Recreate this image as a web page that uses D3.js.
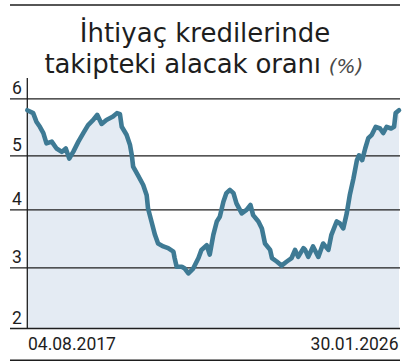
<!DOCTYPE html>
<html><head><meta charset="utf-8">
<script src="https://cdn.jsdelivr.net/npm/d3@7/dist/d3.min.js"></script>
<style>
html,body{margin:0;padding:0;background:#fff;}
svg{display:block;}
</style></head>
<body>
<svg id="c" width="417" height="364"></svg>
<script>
const titleLine1 = "İhtiyaç kredilerinde";
const titleLine2 = "takipteki alacak oranı";
const titleUnit = "(%)";
const yTicks = [2, 3, 4, 5, 6];
const xLabels = ["04.08.2017", "30.01.2026"];
const dates = [
"2017-08-04","2017-09-22","2017-10-19","2017-11-17","2017-12-16",
"2018-01-11","2018-02-24","2018-04-05","2018-05-19","2018-06-21","2018-07-20","2018-08-22","2018-10-04","2018-11-14","2018-12-24",
"2019-02-05","2019-03-10","2019-04-16","2019-05-26","2019-07-20","2019-08-22","2019-09-16","2019-10-01","2019-11-10","2019-12-09","2019-12-24",
"2020-01-04","2020-02-16","2020-03-28","2020-04-26","2020-05-07","2020-06-05","2020-07-04","2020-07-30","2020-09-12","2020-10-22","2020-12-05","2020-12-15",
"2021-01-01","2021-02-13","2021-03-10","2021-04-09","2021-05-19","2021-07-02","2021-07-27","2021-09-09","2021-10-04","2021-11-03","2021-12-02","2021-12-27",
"2022-01-26","2022-02-20","2022-03-21","2022-04-20","2022-05-15","2022-06-28","2022-08-07","2022-09-09","2022-10-01","2022-11-14","2022-12-13",
"2023-01-08","2023-02-20","2023-03-07","2023-04-16","2023-05-26","2023-07-09","2023-08-18","2023-09-16","2023-10-12","2023-11-25","2023-12-09",
"2024-01-04","2024-02-13","2024-03-28","2024-05-07","2024-06-20","2024-07-15","2024-08-28","2024-09-23","2024-10-22","2024-11-20","2024-12-15",
"2025-01-15","2025-02-13","2025-03-03","2025-03-29","2025-04-23","2025-05-19","2025-06-17","2025-07-20","2025-08-25","2025-09-20","2025-10-19","2025-11-25","2025-12-20",
"2026-01-02","2026-01-30"
];
const values = [
5.79,5.74,5.59,5.50,5.39,
5.21,5.24,5.12,5.06,5.12,4.94,5.06,5.24,5.39,5.53,
5.62,5.71,5.55,5.62,5.68,5.74,5.72,5.50,5.36,5.18,5.00,
4.79,4.62,4.45,4.26,4.02,3.79,3.56,3.41,3.36,3.33,3.27,3.16,
3.01,3.01,2.98,2.90,2.98,3.16,3.30,3.38,3.22,3.56,3.79,3.87,
4.14,4.30,4.36,4.30,4.11,3.93,3.99,4.08,3.90,3.79,3.67,
3.41,3.30,3.16,3.10,3.03,3.10,3.16,3.30,3.18,3.33,3.30,
3.18,3.36,3.18,3.41,3.30,3.56,3.79,3.76,3.67,3.93,4.26,
4.57,4.91,5.00,4.91,5.12,5.30,5.36,5.50,5.47,5.39,5.50,5.47,5.50,
5.74,5.79
];

const parse = d3.timeParse("%Y-%m-%d");
const data = dates.map((d, i) => ({ date: parse(d), value: values[i] }));

const svg = d3.select("#c");
const ink = "#1e1e1e";
const lineColor = "#3e7a94";
const fillColor = "#e4ebf3";

const x = d3.scaleTime()
  .domain([parse(dates[0]), parse(dates[dates.length - 1])])
  .range([27.3, 399]);
const y = d3.scaleLinear()
  .domain(yTicks)
  .range([328, 267.3, 209.3, 155.3, 98.3]);

// top rule
svg.append("line").attr("x1", 10).attr("x2", 400).attr("y1", 5).attr("y2", 5)
  .attr("stroke", ink).attr("stroke-width", 1.4);

// title
const tf = "'DejaVu Sans', sans-serif";
svg.append("text").attr("x", 205).attr("y", 42).attr("text-anchor", "middle")
  .attr("font-family", tf).attr("font-size", 26).attr("fill", ink)
  .text(titleLine1);
const t2 = svg.append("text").attr("x", 204).attr("y", 73).attr("text-anchor", "middle")
  .attr("font-family", tf).attr("font-size", 26).attr("fill", ink);
t2.append("tspan").attr("letter-spacing", -0.2).text(titleLine2 + " ");
t2.append("tspan").attr("font-style", "italic").attr("font-size", 20).attr("fill", "#4a4a4a")
  .attr("font-family", "'DejaVu Sans', sans-serif").text(titleUnit);

// area
svg.append("path").datum(data)
  .attr("fill", fillColor)
  .attr("d", d3.area().x(d => x(d.date)).y0(y(2)).y1(d => y(d.value)));

// gridlines (axis)
const gy = svg.append("g").attr("transform", "translate(400,0)");
gy.call(d3.axisRight(y).tickValues(yTicks).tickSize(-390).tickFormat(""));
gy.select(".domain").remove();
gy.selectAll(".tick line").attr("stroke", ink).attr("stroke-width", 1.3);

// y labels
svg.append("g").selectAll("text").data(yTicks).join("text")
  .attr("x", 12).attr("y", d => y(d) - 4)
  .attr("font-family", "Roboto, sans-serif").attr("font-size", 17.5).attr("fill", ink)
  .text(d => d);

// vertical axis line
svg.append("line").attr("x1", 27.3).attr("x2", 27.3).attr("y1", 78).attr("y2", y(2))
  .attr("stroke", ink).attr("stroke-width", 1.3);

// data line
svg.append("path").datum(data)
  .attr("fill", "none").attr("stroke", lineColor).attr("stroke-width", 4.6)
  .attr("stroke-linejoin", "round").attr("stroke-linecap", "round")
  .attr("d", d3.line().x(d => x(d.date)).y(d => y(d.value)));

// x labels
svg.append("text").attr("x", 28).attr("y", 350)
  .attr("font-family", "Roboto, sans-serif").attr("font-size", 17.5).attr("fill", ink)
  .text(xLabels[0]);
svg.append("text").attr("x", 398.5).attr("y", 350).attr("text-anchor", "end")
  .attr("font-family", "Roboto, sans-serif").attr("font-size", 17.5).attr("fill", ink)
  .text(xLabels[1]);

// bottom rule
svg.append("line").attr("x1", 10).attr("x2", 400).attr("y1", 360.3).attr("y2", 360.3)
  .attr("stroke", ink).attr("stroke-width", 1.4);
</script>
</body></html>
